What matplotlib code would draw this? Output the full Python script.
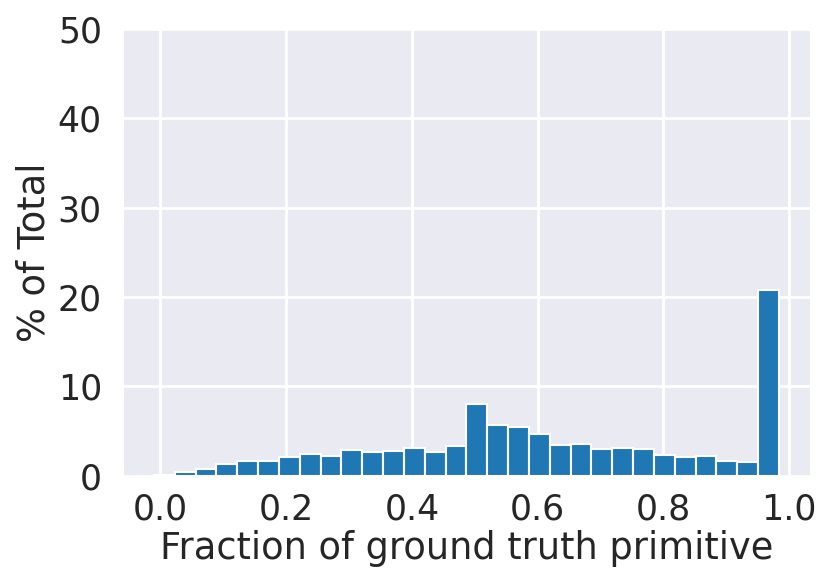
import numpy as np
import matplotlib
matplotlib.use("Agg")
import matplotlib.pyplot as plt
import seaborn as sns

# histogram bins (30 equal bins)
bin_lo = -0.0103
bin_hi = 0.984
n_bins = 30

# percent of total per bin
pct = [0.05, 0.45, 0.72, 1.35, 1.68, 1.61, 2.06, 2.42, 2.24, 2.84,
       2.61, 2.76, 3.06, 2.61, 3.35, 7.99, 5.69, 5.40, 4.62, 3.43,
       3.54, 2.98, 3.06, 3.02, 2.35, 2.06, 2.24, 1.61, 1.53, 20.77]

x_ticks = [0.0, 0.2, 0.4, 0.6, 0.8, 1.0]
y_ticks = [0, 10, 20, 30, 40, 50]

sns.set_style("darkgrid")
plt.rcParams['font.family'] = ['DejaVu Sans']
plt.rcParams['grid.linewidth'] = 2.0

edges = np.linspace(bin_lo, bin_hi, n_bins + 1)

fig = plt.figure(figsize=(8.31, 5.86), dpi=100)
ax = fig.add_axes([0.1477, 0.1884, 0.8273, 0.7621])

ax.bar(edges[:-1], pct, width=np.diff(edges), align="edge",
       color="#1f77b4", edgecolor="white", linewidth=1.5)

ax.set_ylim(0, 50)
ax.set_xticks(x_ticks)
ax.set_xticklabels(["%.1f" % t for t in x_ticks])
ax.set_yticks(y_ticks)
ax.tick_params(axis="y", labelsize=25, colors="#262626", pad=11.5)
ax.tick_params(axis="x", labelsize=25, colors="#262626", pad=8.5)
ax.set_xlabel("Fraction of ground truth primitive", fontsize=26.5, color="#262626", labelpad=3)
ax.set_ylabel("% of Total", fontsize=26.5, color="#262626", labelpad=4)

fig.savefig("out.png", dpi=100)
